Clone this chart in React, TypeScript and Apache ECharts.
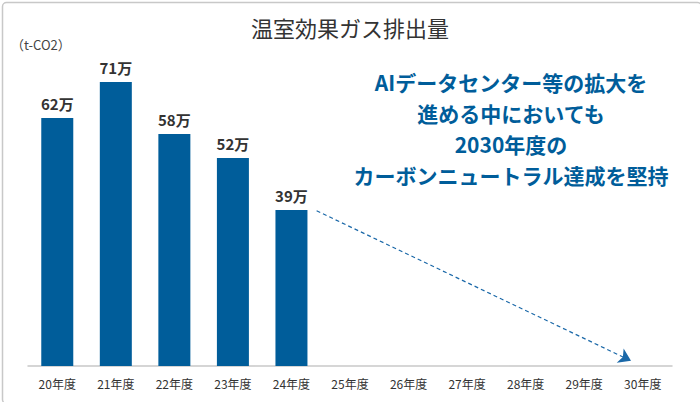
import React, { useEffect, useRef } from "react";
import * as echarts from "echarts";

const categories = ["20年度", "21年度", "22年度", "23年度", "24年度", "25年度", "26年度", "27年度", "28年度", "29年度", "30年度"];
const emissions: (number | null)[] = [62, 71, 58, 52, 39, null, null, null, null, null, null];
const trendStart = [4.43, 38.8];
const trendEnd = [9.8, 1.3];
const titleText = "温室効果ガス排出量";
const unitText = "（t-CO2）";
const noteLines = ["AIデータセンター等の拡大を", "進める中においても", "2030年度の", "カーボンニュートラル達成を堅持"];

const FONT = '"Noto Sans CJK JP", "Noto Sans", sans-serif';
const BLUE = "#005d9a";

export default function App() {
  const ref = useRef<HTMLDivElement>(null);
  useEffect(() => {
    if (!ref.current) return;
    const chart = echarts.init(ref.current, null, { renderer: "svg" });
    chart.setOption({
      animation: false,
      textStyle: { fontFamily: FONT },
      title: {
        text: titleText,
        left: "center",
        top: 11,
        textStyle: { fontSize: 22, fontWeight: "normal", color: "#333", fontFamily: FONT },
      },
      grid: { left: 28, right: 28, top: 46, bottom: 36 },
      xAxis: [
        {
          type: "category",
          data: categories,
          axisLine: { lineStyle: { color: "#c8c8c8", width: 1.5 } },
          axisTick: { show: false },
          axisLabel: { color: "#333", fontSize: 12, margin: 11, fontFamily: FONT },
        },
        { type: "value", min: -0.5, max: 10.5, show: false },
      ],
      yAxis: { type: "value", min: 0, max: 80, show: false, splitLine: { show: false } },
      series: [
        {
          type: "bar",
          data: emissions,
          barWidth: 32,
          itemStyle: { color: BLUE },
          label: {
            show: true,
            position: "top",
            distance: 7,
            formatter: (p: any) => `${p.value}万`,
            fontSize: 15,
            fontWeight: "bold",
            color: "#333",
            fontFamily: FONT,
          },
        },
        {
          type: "line",
          xAxisIndex: 1,
          data: [],
          markLine: {
            silent: true,
            symbol: ["none", "arrow"],
            symbolSize: 12,
            label: { show: false },
            lineStyle: { color: "#1a68a8", type: [4, 3], width: 1.2 },
            data: [[{ coord: trendStart }, { coord: trendEnd }]],
          },
        },
      ],
      graphic: [
        {
          type: "rect",
          left: 0,
          top: 0,
          shape: { width: 699, height: 401, r: 4 },
          style: { fill: "none", stroke: "#c8c8c8", lineWidth: 1.5 },
          silent: true,
        },
        {
          type: "text",
          left: 11,
          top: 38,
          style: { text: unitText, fill: "#444", font: `13px ${FONT}` },
        },
        {
          type: "text",
          x: 511,
          y: 66,
          style: {
            text: noteLines.join("\n"),
            align: "center",
            verticalAlign: "top",
            lineHeight: 31,
            fill: BLUE,
            fontSize: 21,
            fontWeight: "bold",
            fontFamily: FONT,
          },
        },
      ],
    });
    return () => chart.dispose();
  }, []);
  return (
    <div
      ref={ref}
      style={{ position: "fixed", left: 0, top: 0, width: 700, height: 402, background: "#fff" }}
    />
  );
}
